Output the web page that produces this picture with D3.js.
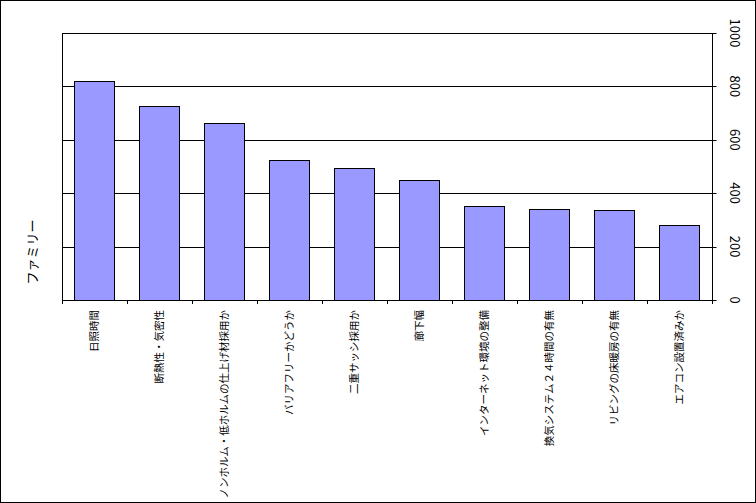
<!DOCTYPE html>
<html><head><meta charset="utf-8">
<script src="https://cdn.jsdelivr.net/npm/d3@7"></script>
<style>body{margin:0;background:#fff}text{font-family:"Noto Sans CJK JP",sans-serif}</style>
</head><body>
<script>
const categories = ["日照時間","断熱性・気密性","ノンホルム・低ホルムの仕上げ材採用か","バリアフリーかどうか","二重サッシ採用か","廊下幅","インターネット環境の整備","換気システム２４時間の有無","リビングの床暖房の有無","エアコン設置済みか"];
const values = [820,727,663,524,494,449,352,341,337,281];
const yTicks = [0,200,400,600,800,1000];
const yTitle = "ファミリー";

const W=756,H=503, L=62,R=712,T=33,B=300;
const svg=d3.select("body").append("svg").attr("width",W).attr("height",H);
svg.append("rect").attr("x",0.5).attr("y",0.5).attr("width",W-1).attr("height",H-1).attr("fill","#fff").attr("stroke","#000");
const x=d3.scaleBand().domain(categories).range([L,R]).paddingInner(0.38).paddingOuter(0.19);
const y=d3.scaleLinear().domain([0,1000]).range([B,T]);

svg.append("g").selectAll("line").data(yTicks.filter(d=>d>0&&d<1000)).join("line")
  .attr("x1",L).attr("x2",R).attr("y1",d=>Math.round(y(d))+0.5).attr("y2",d=>Math.round(y(d))+0.5).attr("stroke","#000");
svg.append("rect").attr("x",L+0.5).attr("y",T+0.5).attr("width",R-L).attr("height",B-T).attr("fill","none").attr("stroke","#000");

svg.append("g").selectAll("rect").data(values).join("rect")
  .attr("x",(d,i)=>Math.round(x(categories[i]))+0.5).attr("width",Math.round(x.bandwidth()))
  .attr("y",d=>Math.round(y(d))+0.5).attr("height",d=>B-Math.round(y(d)))
  .attr("fill","#9999ff").attr("stroke","#000").attr("stroke-width",1);

// category boundary ticks
const step=(R-L)/categories.length;
svg.append("g").selectAll("line").data(d3.range(categories.length+1)).join("line")
  .attr("x1",i=>Math.round(L+i*step)+0.5).attr("x2",i=>Math.round(L+i*step)+0.5)
  .attr("y1",B).attr("y2",B+4).attr("stroke","#000");

// right axis
const ya=svg.append("g").attr("transform",`translate(${R+0.5},0)`);
ya.selectAll("line").data(yTicks).join("line").attr("x1",0).attr("x2",4)
  .attr("y1",d=>Math.round(y(d))+0.5).attr("y2",d=>Math.round(y(d))+0.5).attr("stroke","#000");
ya.selectAll("text").data(yTicks).join("text")
  .attr("transform",d=>`translate(22,${y(d)}) rotate(90)`).attr("text-anchor","middle")
  .attr("font-size",13).attr("dy","0.35em").text(d=>d);

// category labels
svg.append("g").selectAll("text").data(categories).join("text")
  .attr("transform",d=>`translate(${x(d)+x.bandwidth()/2},310) rotate(-90)`)
  .attr("text-anchor","end").attr("dy","0.35em").attr("font-size",10.5).text(d=>d);

svg.append("text").attr("transform","translate(32,252) rotate(-90)").attr("text-anchor","middle")
  .attr("dy","0.35em").attr("font-size",13).text(yTitle);
</script>
</body></html>
